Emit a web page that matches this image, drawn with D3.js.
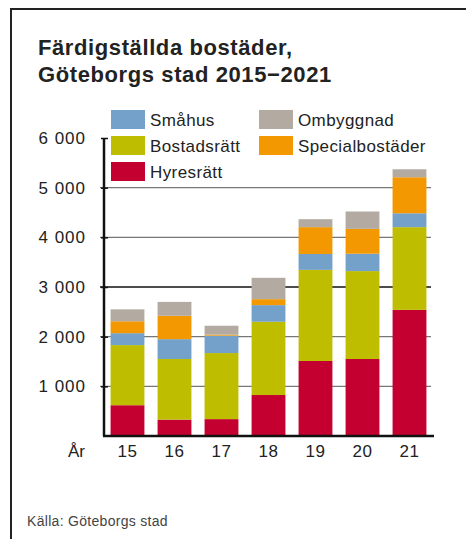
<!DOCTYPE html>
<html>
<head>
<meta charset="utf-8">
<script src="https://cdn.jsdelivr.net/npm/d3@7"></script>
<style>
  body { margin: 0; background: #fff; }
  svg { display: block; font-family: "Liberation Sans", Arial, sans-serif; }
</style>
</head>
<body>
<div id="chart"></div>
<script>
const years = ['15', '16', '17', '18', '19', '20', '21'];
const hyresratt = [620, 330, 340, 825, 1510, 1550, 2540];
const bostadsratt = [1210, 1220, 1330, 1475, 1835, 1770, 1665];
const smahus = [240, 400, 350, 335, 320, 350, 280];
const specialbostader = [240, 470, 20, 120, 540, 500, 725];
const ombyggnad = [240, 280, 180, 430, 160, 350, 160];
const yTicks = [0, 1000, 2000, 3000, 4000, 5000, 6000];

const seriesNames = ['Hyresrätt', 'Bostadsrätt', 'Småhus', 'Specialbostäder', 'Ombyggnad'];
const seriesColors = ['#c3002f', '#bebd00', '#74a1c9', '#f39800', '#b3aaa1'];

const width = 466;
const height = 539;

const table = years.map((yr, i) => ({
    year: yr,
    'Hyresrätt': hyresratt[i],
    'Bostadsrätt': bostadsratt[i],
    'Småhus': smahus[i],
    'Specialbostäder': specialbostader[i],
    'Ombyggnad': ombyggnad[i]
}));

const svg = d3.select('#chart')
    .append('svg')
    .attr('width', width)
    .attr('height', height);

// frame (top + left edge)
svg.append('path')
    .attr('d', 'M11,' + height + 'V9H' + width)
    .attr('fill', 'none')
    .attr('stroke', '#222')
    .attr('stroke-width', 2);

// title
svg.append('text')
    .attr('x', 38).attr('y', 55)
    .attr('font-size', 22).attr('font-weight', 'bold').attr('fill', '#222')
    .attr('letter-spacing', 0.6)
    .text('Färdigställda bostäder,');
svg.append('text')
    .attr('x', 38).attr('y', 82)
    .attr('font-size', 22).attr('font-weight', 'bold').attr('fill', '#222')
    .attr('letter-spacing', 0.6)
    .text('Göteborgs stad 2015−2021');

const x = d3.scaleBand()
    .domain(years)
    .range([104, 433])
    .paddingInner(0.28)
    .paddingOuter(0.14);

const y = d3.scaleLinear()
    .domain([0, 6000])
    .range([436, 138]);

const color = d3.scaleOrdinal().domain(seriesNames).range(seriesColors);

// gridlines
svg.append('g')
    .selectAll('line')
    .data(yTicks.filter(d => d > 0 && d < 6000))
    .enter()
    .append('line')
    .attr('x1', 100).attr('x2', 431)
    .attr('y1', d => y(d)).attr('y2', d => y(d))
    .attr('stroke', d => d === 3000 ? '#111' : '#777')
    .attr('stroke-width', 1.3);

// stacked bars
const stack = d3.stack().keys(seriesNames);
const layers = stack(table);

svg.append('g')
    .selectAll('g')
    .data(layers)
    .enter()
    .append('g')
    .attr('fill', d => color(d.key))
    .selectAll('rect')
    .data(d => d)
    .enter()
    .append('rect')
    .attr('x', d => x(d.data.year))
    .attr('width', x.bandwidth())
    .attr('y', d => y(d[1]))
    .attr('height', d => y(d[0]) - y(d[1]));

// y axis
const yAxis = svg.append('g')
    .attr('transform', 'translate(104,0)')
    .call(d3.axisLeft(y)
        .tickValues(yTicks.filter(d => d > 0))
        .tickSize(4)
        .tickPadding(14)
        .tickFormat(d => d3.format(',')(d).replace(',', ' ')));
yAxis.select('.domain').attr('stroke', '#111').attr('stroke-width', 2.5)
    .attr('d', 'M0,' + y(6000) + 'V' + y(0));
yAxis.selectAll('.tick line').attr('stroke', '#111').attr('stroke-width', 1.5)
    .attr('x1', -3).attr('x2', 4);
yAxis.selectAll('.tick text')
    .attr('font-size', 17).attr('fill', '#222')
    .attr('letter-spacing', 1)
    .attr('font-family', '"Liberation Sans", Arial, sans-serif');

// baseline
svg.append('line')
    .attr('x1', 103).attr('x2', 434)
    .attr('y1', y(0)).attr('y2', y(0))
    .attr('stroke', '#111').attr('stroke-width', 2.5);

// x axis labels
const xAxis = svg.append('g')
    .attr('transform', 'translate(0,' + y(0) + ')')
    .call(d3.axisBottom(x).tickSize(0).tickPadding(9));
xAxis.select('.domain').remove();
xAxis.selectAll('.tick text')
    .attr('font-size', 17).attr('fill', '#222')
    .attr('letter-spacing', 0.5)
    .attr('font-family', '"Liberation Sans", Arial, sans-serif');

svg.append('text')
    .attr('x', 68).attr('y', 457)
    .attr('font-size', 17).attr('fill', '#222')
    .text('År');

// legend
const legendItems = [
    { name: 'Småhus', col: 0, row: 0 },
    { name: 'Ombyggnad', col: 1, row: 0 },
    { name: 'Bostadsrätt', col: 0, row: 1 },
    { name: 'Specialbostäder', col: 1, row: 1 },
    { name: 'Hyresrätt', col: 0, row: 2 }
];

const legend = svg.append('g')
    .selectAll('g')
    .data(legendItems)
    .enter()
    .append('g')
    .attr('transform', d => 'translate(' + (111 + d.col * 148) + ',' + (110 + d.row * 26) + ')');

legend.append('rect')
    .attr('width', 34).attr('height', 19)
    .attr('fill', d => color(d.name));

legend.append('text')
    .attr('x', 39).attr('y', 15.5)
    .attr('font-size', 17).attr('fill', '#222')
    .attr('letter-spacing', 0.4)
    .text(d => d.name);

// source
svg.append('text')
    .attr('x', 27).attr('y', 526)
    .attr('font-size', 14).attr('fill', '#444')
    .attr('letter-spacing', 0.3)
    .text('Källa: Göteborgs stad');
</script>
</body>
</html>
